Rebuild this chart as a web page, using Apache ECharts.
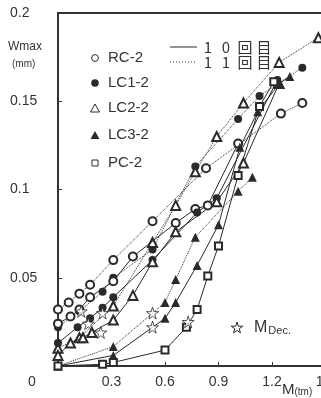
<!DOCTYPE html>
<html>
<head>
<meta charset="utf-8">
<script src="https://cdn.jsdelivr.net/npm/echarts@6/dist/echarts.min.js"></script>
<style>
  html, body { margin: 0; padding: 0; background: #fff; }
  #chart { width: 321px; height: 398px; }
</style>
</head>
<body>
<div id="chart"></div>
<script>
// M (tm) vs Wmax (mm), 10th cycle solid, 11th cycle dotted
const xTicks = [0, 0.3, 0.6, 0.9, 1.2, 1.5]
const yTicks = [0, 0.05, 0.1, 0.15, 0.2]

const rc2_10 = [[0, 0.024], [0.07, 0.028], [0.12, 0.032], [0.18, 0.039], [0.31, 0.048], [0.42, 0.062], [0.66, 0.081], [0.77, 0.089], [0.84, 0.091], [1.01, 0.126]]
const rc2_11 = [[0, 0.032], [0.06, 0.036], [0.12, 0.041], [0.18, 0.046], [0.31, 0.060], [0.53, 0.082], [0.83, 0.112], [1.25, 0.143], [1.37, 0.149]]
const lc12_10 = [[0, 0.013], [0.11, 0.022], [0.18, 0.027], [0.25, 0.033], [0.31, 0.039], [0.53, 0.060], [0.78, 0.087], [0.89, 0.095], [1.23, 0.162]]
const lc12_11 = [[0, 0.022], [0.12, 0.031], [0.25, 0.042], [0.31, 0.050], [0.53, 0.066], [0.77, 0.113], [1.01, 0.140], [1.13, 0.153], [1.37, 0.169]]
const lc22_10 = [[0, 0.006], [0.07, 0.013], [0.14, 0.016], [0.19, 0.019], [0.31, 0.026], [0.42, 0.040], [0.53, 0.059], [0.66, 0.076], [0.89, 0.093], [1.04, 0.115], [1.24, 0.160]]
const lc22_11 = [[0, 0.010], [0.12, 0.016], [0.31, 0.034], [0.53, 0.070], [0.66, 0.091], [0.77, 0.110], [0.89, 0.130], [1.04, 0.149], [1.24, 0.172], [1.46, 0.186]]
const lc32_10 = [[0, 0], [0.31, 0.006], [0.6, 0.027], [0.66, 0.036], [0.78, 0.057], [0.9, 0.080], [1.02, 0.124], [1.12, 0.144], [1.24, 0.160], [1.30, 0.164]]
const lc32_11 = [[0, 0], [0.31, 0.011], [0.6, 0.036], [0.66, 0.049], [0.77, 0.073], [1.01, 0.099], [1.09, 0.107]]
const pc2_10 = [[0, 0], [0.25, 0.001], [0.31, 0.002], [0.6, 0.009], [0.72, 0.022], [0.78, 0.032], [0.84, 0.051], [0.9, 0.068], [1.01, 0.108], [1.13, 0.147], [1.21, 0.161]]
const mDec = [[0.13, 0.031], [0.25, 0.030], [0.17, 0.024], [0.24, 0.019], [0.53, 0.030], [0.53, 0.022], [0.73, 0.025]]

const ink = '#2a2a2a'
const starPts = [[50, 0], [61, 35], [98, 35], [68, 57], [79, 91], [50, 70], [21, 91], [32, 57], [2, 35], [39, 35]]
const starPath = 'path://M' + starPts.map((p) => p.join(',')).join(' L') + ' Z'

function line(name, data, symbol, size, dotted) {
  return {
    name: name,
    type: 'line',
    data: data,
    symbol: symbol,
    symbolSize: size,
    showSymbol: true,
    lineStyle: { color: ink, width: 1, type: dotted ? 'dotted' : 'solid' },
    itemStyle: { color: ink, borderWidth: 1 },
    z: dotted ? 2 : 3
  }
}

const chart = echarts.init(document.getElementById('chart'))

const textStyle = { fill: '#333', fontFamily: 'Liberation Sans' }

function cjk(chars, xs, y) {
  return chars.map((c, i) => ({
    type: 'text', x: xs[i], y: y,
    style: { text: c, fontSize: 15, fill: '#333', fontFamily: 'Noto Sans CJK JP', align: 'center', verticalAlign: 'middle' }
  }))
}

chart.setOption({
  backgroundColor: '#fff',
  animation: false,
  grid: {
    left: 58, top: 13, right: -4.5, bottom: 32,
    outerBoundsMode: 'none',
    show: true, borderColor: '#333', borderWidth: 2, backgroundColor: 'transparent'
  },
  xAxis: {
    type: 'value',
    min: xTicks[0], max: xTicks[xTicks.length - 1], interval: 0.3,
    splitLine: { show: false },
    axisLine: { lineStyle: { color: '#333', width: 2 } },
    axisTick: { inside: true, length: 4, lineStyle: { color: '#333' } },
    axisLabel: {
      color: '#333', fontSize: 14, fontFamily: 'Liberation Sans', margin: 9,
      formatter: (v) => (v === 0 ? '' : v.toFixed(1))
    }
  },
  yAxis: {
    type: 'value',
    min: yTicks[0], max: yTicks[yTicks.length - 1], interval: 0.05,
    splitLine: { show: false },
    axisLine: { lineStyle: { color: '#333', width: 2 } },
    axisTick: { inside: true, length: 4, lineStyle: { color: '#333' } },
    axisLabel: {
      color: '#333', fontSize: 14, fontFamily: 'Liberation Sans', margin: 48, align: 'left',
      formatter: (v) => (v === 0 ? '' : String(v))
    }
  },
  series: [
    line('RC-2', rc2_10, 'emptyCircle', 8, false),
    line('RC-2', rc2_11, 'emptyCircle', 8, true),
    line('LC1-2', lc12_10, 'circle', 8, false),
    line('LC1-2', lc12_11, 'circle', 8, true),
    line('LC2-2', lc22_10, 'emptyTriangle', 9, false),
    line('LC2-2', lc22_11, 'emptyTriangle', 9, true),
    line('LC3-2', lc32_10, 'triangle', 9, false),
    line('LC3-2', lc32_11, 'triangle', 9, true),
    line('PC-2', pc2_10, 'emptyRect', 7, false),
    {
      name: 'MDec',
      type: 'scatter',
      data: mDec,
      symbol: starPath,
      symbolSize: 12,
      itemStyle: { color: '#fff', borderColor: ink, borderWidth: 1 },
      z: 5
    }
  ],
  graphic: [
    { type: 'text', x: 32, y: 382, style: Object.assign({ text: '0', fontSize: 14, align: 'center', verticalAlign: 'middle' }, textStyle) },
    { type: 'text', x: 8, y: 47, style: Object.assign({ text: 'Wmax', fontSize: 12, verticalAlign: 'middle' }, textStyle) },
    { type: 'text', x: 12, y: 64, style: Object.assign({ text: '(mm)', fontSize: 10, verticalAlign: 'middle' }, textStyle) },

    // left legend
    { type: 'circle', shape: { cx: 95, cy: 58, r: 3.4 }, style: { fill: '#fff', stroke: ink, lineWidth: 1 } },
    { type: 'circle', shape: { cx: 95, cy: 83, r: 3.8 }, style: { fill: ink } },
    { type: 'polygon', shape: { points: [[95, 104], [99.5, 112], [90.5, 112]] }, style: { fill: '#fff', stroke: ink, lineWidth: 1 } },
    { type: 'polygon', shape: { points: [[95, 131], [99.5, 139], [90.5, 139]] }, style: { fill: ink } },
    { type: 'rect', shape: { x: 92, y: 160, width: 6, height: 6 }, style: { fill: '#fff', stroke: ink, lineWidth: 1 } },
    { type: 'text', x: 108, y: 58, style: Object.assign({ text: 'RC-2', fontSize: 15, verticalAlign: 'middle' }, textStyle) },
    { type: 'text', x: 108, y: 83, style: Object.assign({ text: 'LC1-2', fontSize: 15, verticalAlign: 'middle' }, textStyle) },
    { type: 'text', x: 108, y: 108, style: Object.assign({ text: 'LC2-2', fontSize: 15, verticalAlign: 'middle' }, textStyle) },
    { type: 'text', x: 108, y: 135, style: Object.assign({ text: 'LC3-2', fontSize: 15, verticalAlign: 'middle' }, textStyle) },
    { type: 'text', x: 108, y: 163, style: Object.assign({ text: 'PC-2', fontSize: 15, verticalAlign: 'middle' }, textStyle) },

    // right legend (cycle)
    { type: 'line', shape: { x1: 170, y1: 47, x2: 197, y2: 47 }, style: { stroke: ink, lineWidth: 1 } },
    { type: 'line', shape: { x1: 170, y1: 62, x2: 197, y2: 62 }, style: { stroke: ink, lineWidth: 1, lineDash: [1, 2] } }
  ].concat(
    cjk(['1', '0', '回', '目'], [208, 226, 245, 264], 47),
    cjk(['1', '1', '回', '目'], [208, 226, 245, 264], 62),
    [
      // MDec note
      {
        type: 'polygon',
        shape: { points: starPts.map((p) => [231 + p[0] * 0.12, 322 + p[1] * 0.12]) },
        style: { fill: '#fff', stroke: ink, lineWidth: 1 }
      },
      {
        type: 'text', x: 254, y: 328,
        style: {
          text: '{a|M}{b|Dec.}', verticalAlign: 'middle',
          rich: {
            a: { fontSize: 16, fill: '#333', fontFamily: 'Liberation Sans' },
            b: { fontSize: 11, fill: '#333', fontFamily: 'Liberation Sans', padding: [5, 0, 0, 1] }
          }
        }
      },
      {
        type: 'text', x: 282, y: 390,
        style: {
          text: '{a|M}{b|(tm)}', verticalAlign: 'middle',
          rich: {
            a: { fontSize: 15, fill: '#333', fontFamily: 'Liberation Sans' },
            b: { fontSize: 10, fill: '#333', fontFamily: 'Liberation Sans', padding: [5, 0, 0, 0] }
          }
        }
      }
    ]
  )
})

window.addEventListener('resize', () => {
  chart.resize()
})
</script>
</body>
</html>
